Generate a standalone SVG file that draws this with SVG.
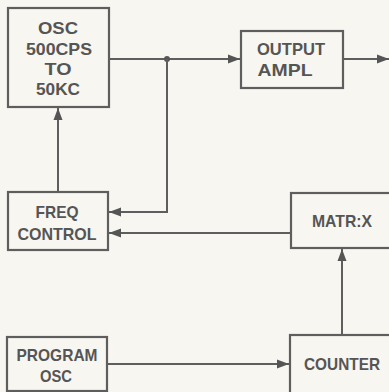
<svg xmlns="http://www.w3.org/2000/svg" width="389" height="392" viewBox="0 0 389 392">
<style>
.bx{fill:none;stroke:#5e5e5e;stroke-width:2.2}
.ln{fill:none;stroke:#5e5e5e;stroke-width:2}
.t{font-family:"Liberation Sans",Arial,sans-serif;font-size:17px;font-weight:bold;fill:#555;text-anchor:middle}
</style>
<defs>
<marker id="ah" markerUnits="userSpaceOnUse" markerWidth="12" markerHeight="10" refX="12" refY="5" orient="auto">
<path d="M0,0.5 L12,5 L0,9.5 Z" fill="#555"/>
</marker>
</defs>
<rect width="389" height="392" fill="#f8f6f0"/>
<g id="connectors">
<path class="ln" d="M109,59 H240" marker-end="url(#ah)"/>
<circle cx="167" cy="59" r="3" fill="#555"/>
<path class="ln" d="M167,59 V212 H109" marker-end="url(#ah)"/>
<path class="ln" d="M343,59 H389" marker-end="url(#ah)"/>
<path class="ln" d="M58,192 V108" marker-end="url(#ah)"/>
<path class="ln" d="M291,233 H109" marker-end="url(#ah)"/>
<path class="ln" d="M342,335 V249" marker-end="url(#ah)"/>
<path class="ln" d="M108,364 H289" marker-end="url(#ah)"/>
</g>
<g id="osc">
<rect class="bx" x="8" y="8" width="101" height="99"/>
<text class="t" x="58" y="34" textLength="40" lengthAdjust="spacingAndGlyphs">OSC</text>
<text class="t" x="59" y="55" textLength="66" lengthAdjust="spacingAndGlyphs">500CPS</text>
<text class="t" x="58" y="75" textLength="27" lengthAdjust="spacingAndGlyphs">TO</text>
<text class="t" x="58" y="95" textLength="44" lengthAdjust="spacingAndGlyphs">50KC</text>
</g>
<g id="output-ampl">
<rect class="bx" x="241" y="31" width="102" height="57"/>
<text class="t" x="291" y="55" textLength="68" lengthAdjust="spacingAndGlyphs">OUTPUT</text>
<text class="t" x="285" y="76" textLength="55" lengthAdjust="spacingAndGlyphs">AMPL</text>
</g>
<g id="freq-control">
<rect class="bx" x="8" y="192" width="100" height="58"/>
<text class="t" x="57" y="218" textLength="43" lengthAdjust="spacingAndGlyphs">FREQ</text>
<text class="t" x="57" y="240" textLength="79" lengthAdjust="spacingAndGlyphs">CONTROL</text>
</g>
<g id="matrix">
<rect class="bx" x="291" y="193" width="110" height="55"/>
<text class="t" x="342" y="227" textLength="60" lengthAdjust="spacingAndGlyphs">MATR:X</text>
</g>
<g id="program-osc">
<rect class="bx" x="7" y="337" width="100" height="54"/>
<text class="t" x="57" y="361" textLength="81" lengthAdjust="spacingAndGlyphs">PROGRAM</text>
<text class="t" x="56" y="382" textLength="32" lengthAdjust="spacingAndGlyphs">OSC</text>
</g>
<g id="counter">
<rect class="bx" x="290" y="335" width="110" height="60"/>
<text class="t" x="342" y="370" textLength="76" lengthAdjust="spacingAndGlyphs">COUNTER</text>
</g>
</svg>
